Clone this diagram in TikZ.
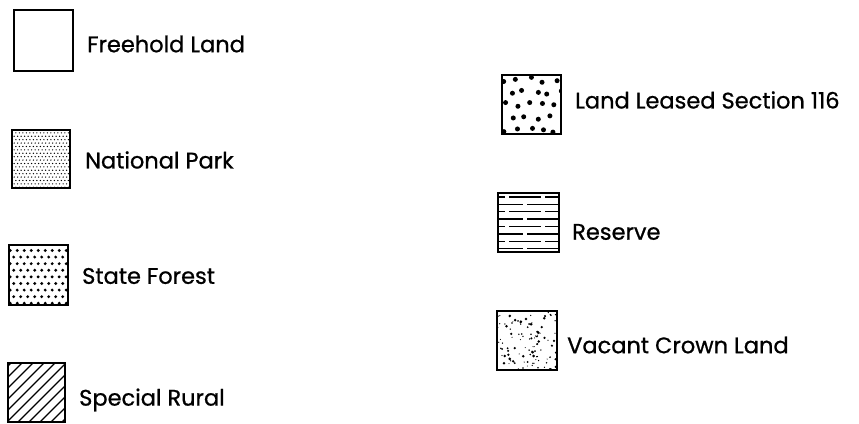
\documentclass[tikz,border=0pt]{standalone}
\usepackage{fontspec}
\setmainfont{Poppins}[UprightFeatures={FakeBold=0.8}]
\begin{document}
\begin{tikzpicture}[x=1pt,y=1pt,
  keybox/.style={draw, line width=1.6pt, inner sep=0pt, minimum width=59pt, minimum height=59pt},
  keytext/.style={anchor=west, inner sep=0pt, font=\fontsize{22.5}{26}\selectfont}]
\useasboundingbox (0,0) rectangle (859,423);
\pgfmathsetseed{4127}

% legend boxes
\node[keybox, minimum height=61pt] (fh) at (43.5,382.5) {};
\node[keybox, minimum width=58pt, minimum height=58pt] (np) at (41,264) {};
\node[keybox, minimum height=60pt] (sf) at (38.5,148) {};
\node[keybox, minimum width=57pt] (sr) at (36.5,30.5) {};
\node[keybox] (ll) at (531.5,318.5) {};
\node[keybox, minimum width=61pt] (rs) at (528.5,200.5) {};
\node[keybox, minimum width=60pt] (vc) at (527,82.5) {};

% legend texts
\node[keytext] (fht) at (87,379) {Freehold Land};
\node[keytext] (npt) at (85,263) {National Park};
\node[keytext] (sft) at (82,147) {State Forest};
\node[keytext] (srt) at (79,23) {Special Rural};
\node[keytext] (llt) at (575,323) {Land Leased Section 116};
\node[keytext] (rst) at (572,191) {Reserve};
\node[keytext] (vct) at (567,78) {Vacant Crown Land};

% National park: fine stipple
\begin{scope}
  \clip (np.south west) rectangle (np.north east);
  \begin{scope}[shift={(np.south west)}]
    \foreach \j in {0,...,17}{
      \foreach \i in {0,...,17}{
        \fill ({1.2+\i*3.5+mod(\j,2)*1.75},{1.5+\j*3.4}) circle (0.7);
      }
    }
  \end{scope}
\end{scope}

% State forest: coarse staggered dots
\begin{scope}
  \clip (sf.south west) rectangle (sf.north east);
  \begin{scope}[shift={(sf.south west)}]
    \foreach \j in {0,...,9}{
      \foreach \i in {0,...,9}{
        \fill ({2+\i*7+mod(\j,2)*3.5},{2.5+\j*6.6}) circle (1.6);
      }
    }
  \end{scope}
\end{scope}

% Special rural: diagonal hatching
\begin{scope}
  \clip (sr.south west) rectangle (sr.north east);
  \begin{scope}[shift={(sr.south west)}]
    \foreach \c in {-56,-45,...,56}{
      \draw[line width=1.3pt] (\c,0) -- ++(70,70);
    }
  \end{scope}
\end{scope}

% Land leased section 116: large scattered dots
\begin{scope}
  \clip (ll.south west) rectangle (ll.north east);
  \begin{scope}[shift={(ll.south west)}]
    \foreach \j in {0,...,4}{
      \foreach \i in {0,...,4}{
        \pgfmathsetmacro\dx{(rnd-0.5)*5}
        \pgfmathsetmacro\dy{(rnd-0.5)*5}
        \fill ({4+\i*12.5+mod(\j,2)*6+\dx},{5+\j*12.5+\dy}) circle (2.5);
      }
    }
  \end{scope}
\end{scope}

% Reserve: staggered horizontal dashes
\begin{scope}
  \clip (rs.south west) rectangle (rs.north east);
  \begin{scope}[shift={(rs.south west)}]
    \foreach \j in {0,...,7}{
      \pgfmathsetmacro\ph{mod(\j,2)*18+6}
      \draw[line width=1.4pt, dash pattern=on 32pt off 4pt, dash phase=\ph pt]
        (0,{4+\j*7.4}) -- (61,{4+\j*7.4});
    }
  \end{scope}
\end{scope}

% Vacant crown land: random specks
\begin{scope}
  \clip (vc.south west) rectangle (vc.north east);
  \begin{scope}[shift={(vc.south west)}]
    \foreach \k in {1,...,110}{
      \pgfmathsetmacro\xx{rnd*60}
      \pgfmathsetmacro\yy{rnd*59}
      \pgfmathsetmacro\rr{0.5+rnd*1.0}
      \fill (\xx,\yy) circle (\rr pt);
    }
  \end{scope}
\end{scope}
\end{tikzpicture}
\end{document}
